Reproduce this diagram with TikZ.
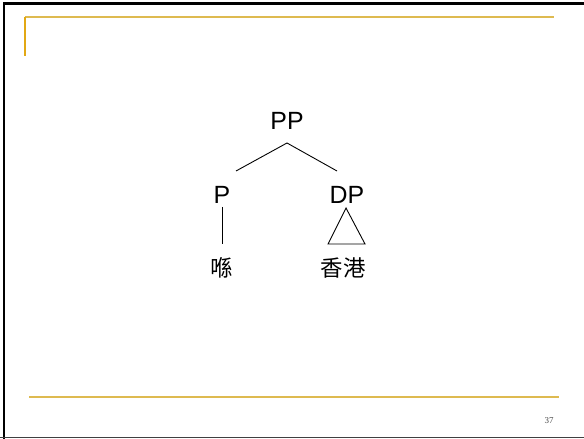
\documentclass[tikz,border=0pt]{standalone}
\usepackage{fontspec}
\setmainfont{Liberation Sans}
\newfontfamily\cjk{Noto Sans CJK SC}
\newfontfamily\serifnum{Liberation Serif}
\definecolor{gold}{RGB}{222,186,80}
\definecolor{goldv}{RGB}{226,168,20}
\begin{document}
\begin{tikzpicture}[x=1bp,y=-1bp,
  lab/.style={inner sep=0pt,font=\fontsize{25}{25}\selectfont},
  cjklab/.style={inner sep=0pt,font=\cjk\fontsize{22.5}{22.5}\selectfont},
  branch/.style={line width=0.9pt}]
\useasboundingbox (0,0) rectangle (584,439);
\fill[white] (-2,-2) rectangle (586,441);
% frame
\draw[line width=3pt] (4,441) -- (4,3.5) -- (586,3.5);
\draw[line width=1.2pt,black!75] (-2,437.5) -- (586,437.5);
% gold rules
\draw[gold,line width=1.8pt] (25,17) -- (554,17);
\draw[goldv,line width=1.2pt] (25,17) -- (25,56);
\draw[gold,line width=1.8pt] (29,397) -- (559,397);
\node[inner sep=0pt,font=\serifnum\fontsize{9}{9}\selectfont,text=black!70] (num) at (549,421) {37};
% tree
\node[lab] (pp) at (287,121) {PP};
\node[lab] (p) at (222,195) {P};
\node[lab] (dp) at (347,195) {DP};
\node[cjklab] (w1) at (222,268) {喺};
\node[cjklab] (w2) at (343,268) {香港};
\coordinate (ppb) at (287,143);
\coordinate (pt) at (236,171);
\coordinate (dpt) at (337,171);
\draw[branch] (pt) -- (ppb) -- (dpt);
\coordinate (pb) at (222,207);
\coordinate (wt) at (222,244);
\draw[branch] (pb) -- (wt);
\coordinate (ta) at (346,208);
\coordinate (tl) at (328,244);
\coordinate (tr) at (365,244);
\draw[branch] (ta) -- (tl) -- (tr) -- cycle;
\end{tikzpicture}
\end{document}
